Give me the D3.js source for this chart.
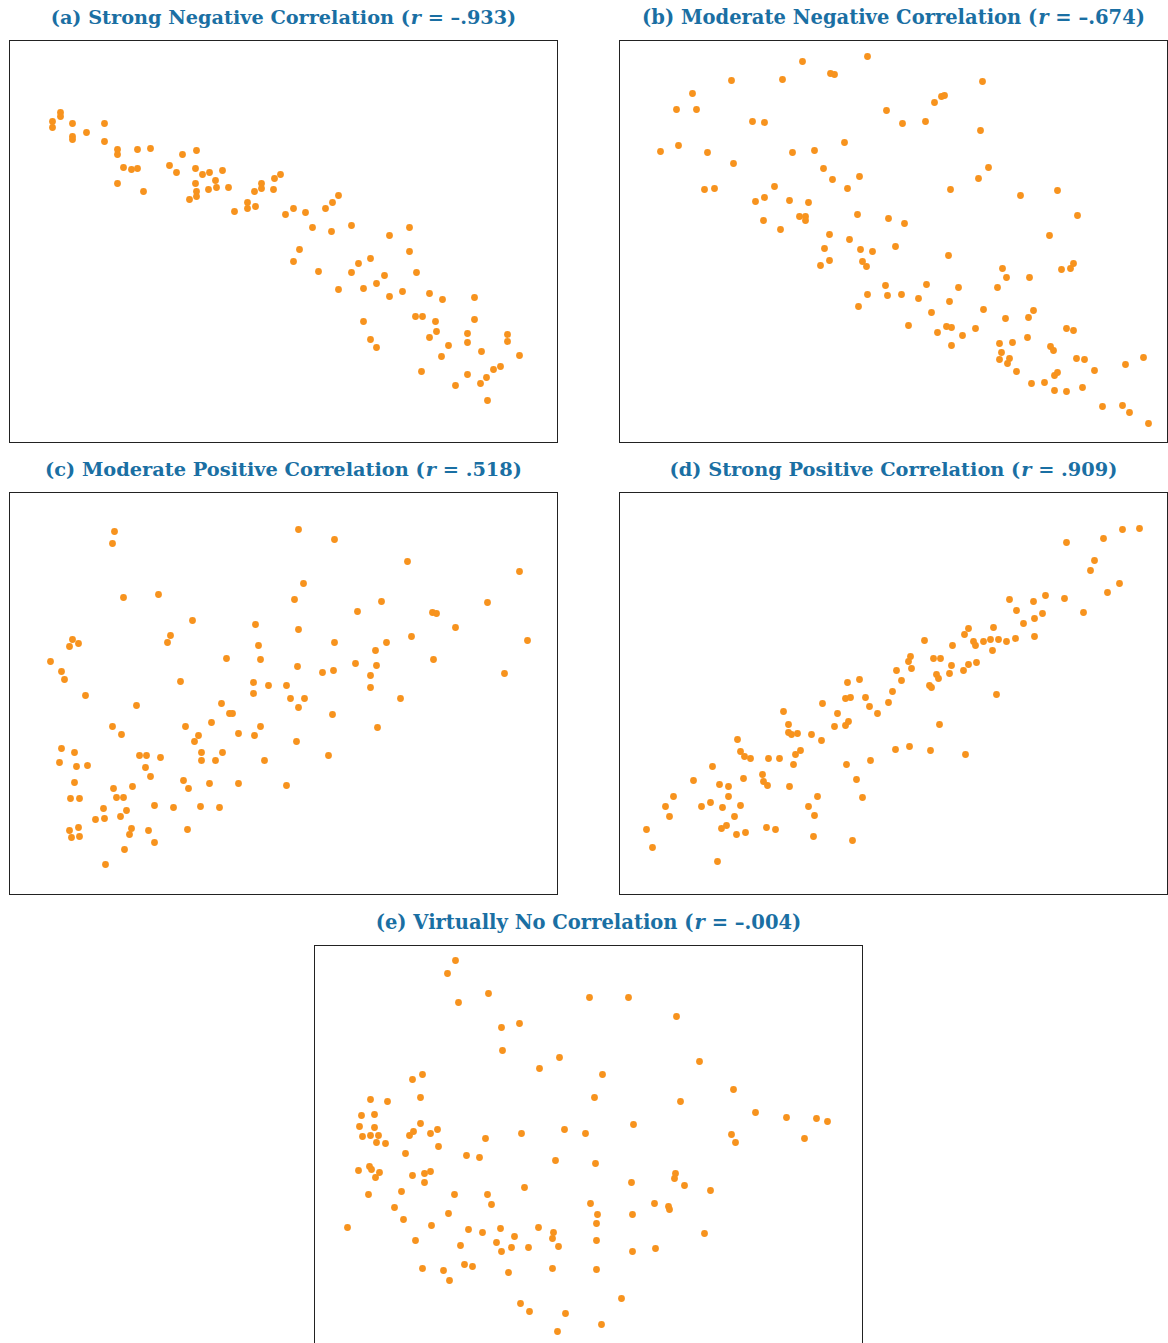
<!DOCTYPE html>
<html>
<head>
<meta charset="utf-8">
<script src="https://cdn.jsdelivr.net/npm/d3@7"></script>
<style>
html,body{margin:0;padding:0;background:#fff;}
svg{display:block;}
</style>
</head>
<body>
<svg id="chart" width="1168" height="1343"></svg>
<script>
// Panel titles
const titlePrefixes = ["(a) Strong Negative Correlation (", "(b) Moderate Negative Correlation (", "(c) Moderate Positive Correlation (", "(d) Strong Positive Correlation (", "(e) Virtually No Correlation ("];
const rValues = ["\u2013.933", "\u2013.674", ".518", ".909", "\u2013.004"];

// Points per panel: [x, y]
const pointsA = [[43,321],[43,315],[51,330],[51,326],[63,319],[63,306],[63,303],[77,310],[95,319],[95,301],[108,293],[108,288],[108,259],[114,275],[122,273],[128,293],[128,274],[134,251],[141,294],[160,277],[167,270],[173,288],[187,292],[186,274],[193,268],[200,270],[186,259],[187,251],[187,246],[180,243],[199,253],[206,262],[207,255],[213,272],[219,255],[225,231],[238,240],[238,234],[246,236],[245,251],[252,259],[252,254],[264,253],[265,264],[271,268],[276,228],[284,234],[296,230],[303,215],[316,234],[323,240],[329,247],[322,211],[342,217],[290,193],[284,181],[309,171],[329,153],[342,170],[349,179],[361,184],[354,154],[367,159],[375,167],[380,207],[380,146],[393,151],[400,215],[400,191],[407,170],[420,149],[433,143],[354,121],[361,103],[367,95],[406,126],[413,126],[426,121],[427,111],[420,105],[439,97],[432,86],[412,71],[446,57],[458,68],[458,109],[458,100],[465,145],[465,123],[472,91],[471,59],[477,65],[478,42],[484,73],[491,76],[498,108],[498,101],[510,87]];

const pointsB = [[41,291],[57,333],[59,297],[73,349],[77,333],[88,290],[85,253],[95,254],[112,362],[114,279],[133,321],[145,320],[136,241],[145,245],[155,256],[144,222],[161,213],[163,363],[183,381],[170,242],[173,290],[189,240],[180,226],[186,226],[186,222],[195,292],[204,274],[213,263],[211,369],[215,368],[225,300],[228,254],[240,266],[248,386],[267,332],[210,208],[205,194],[201,177],[210,182],[230,203],[238,228],[241,193],[243,181],[247,176],[253,191],[269,224],[276,196],[266,157],[248,148],[268,147],[239,136],[363,361],[315,340],[322,346],[325,347],[283,319],[306,321],[361,312],[369,275],[359,264],[331,253],[401,247],[438,252],[458,227],[285,219],[430,207],[329,187],[383,174],[387,165],[410,165],[442,173],[451,174],[454,179],[307,158],[339,155],[378,155],[282,148],[299,144],[330,141],[312,130],[364,133],[414,132],[409,125],[386,124],[289,117],[318,110],[327,116],[332,115],[343,107],[356,114],[332,97],[380,99],[393,100],[408,105],[382,90],[380,83],[390,84],[388,79],[397,71],[412,59],[425,60],[431,96],[434,92],[447,114],[454,112],[457,84],[465,83],[435,67],[438,70],[435,52],[447,51],[463,55],[475,72],[483,36],[503,37],[510,30],[506,78],[524,85],[529,19]];

const pointsC = [[105,363],[103,351],[114,297],[149,300],[183,274],[246,270],[63,255],[69,251],[60,248],[41,233],[52,223],[55,215],[76,199],[161,259],[158,252],[249,249],[251,235],[217,236],[171,213],[244,212],[244,201],[259,209],[277,209],[127,189],[212,191],[220,181],[223,181],[103,168],[112,160],[176,168],[202,172],[189,159],[185,153],[229,161],[251,168],[245,159],[52,146],[65,142],[50,132],[67,128],[78,129],[65,112],[61,96],[70,96],[60,64],[69,67],[62,57],[70,58],[96,30],[130,139],[137,139],[151,137],[136,127],[141,118],[104,106],[123,108],[107,97],[114,97],[94,86],[117,84],[86,75],[95,76],[111,78],[122,66],[120,60],[139,64],[145,52],[115,45],[145,89],[164,87],[178,65],[174,114],[179,106],[192,142],[192,134],[206,134],[213,142],[255,134],[200,111],[229,111],[191,88],[210,87],[277,109],[289,365],[325,355],[398,333],[510,323],[294,311],[285,295],[372,293],[348,283],[423,282],[427,281],[478,292],[446,267],[518,254],[289,265],[325,252],[377,252],[402,258],[366,244],[288,228],[313,222],[324,224],[346,231],[367,229],[361,219],[361,207],[424,235],[495,221],[281,196],[295,196],[289,187],[323,180],[391,196],[368,167],[287,153],[319,139]];

const pointsD = [[27,65],[33,47],[46,88],[50,78],[54,98],[74,114],[82,88],[91,92],[93,128],[100,110],[103,87],[109,108],[109,98],[102,66],[107,69],[98,33],[115,78],[117,60],[126,62],[121,89],[124,116],[118,155],[121,143],[125,138],[131,136],[143,120],[144,113],[148,109],[149,136],[160,136],[147,67],[156,65],[164,183],[169,170],[169,162],[172,160],[178,161],[176,140],[174,130],[181,144],[170,108],[189,88],[198,98],[195,79],[194,58],[192,160],[202,154],[203,191],[215,168],[218,181],[226,169],[229,173],[228,212],[226,196],[231,197],[240,215],[246,197],[250,188],[258,181],[269,192],[273,203],[277,224],[227,130],[237,115],[243,97],[233,54],[251,134],[276,145],[282,214],[289,233],[291,238],[292,226],[305,254],[310,209],[312,207],[314,236],[321,236],[317,220],[319,216],[330,221],[332,229],[333,249],[320,170],[290,148],[311,144],[346,140],[344,224],[349,230],[357,232],[345,260],[349,266],[354,253],[356,249],[364,253],[371,255],[373,244],[374,267],[379,255],[387,253],[377,200],[390,295],[397,284],[396,256],[404,271],[414,293],[415,276],[415,258],[423,281],[426,299],[445,296],[447,352],[464,282],[471,324],[475,334],[484,356],[488,302],[500,311],[503,365],[520,366]];

const pointsE = [[141,387],[133,374],[144,345],[174,354],[187,320],[205,324],[188,297],[245,290],[225,279],[275,350],[98,268],[108,273],[106,250],[56,248],[73,246],[47,232],[60,233],[45,221],[60,220],[48,211],[56,212],[64,212],[62,205],[71,204],[106,224],[95,212],[99,216],[116,214],[123,218],[124,201],[91,194],[44,177],[55,181],[57,178],[65,175],[61,170],[54,153],[98,172],[110,174],[116,176],[110,165],[87,156],[80,140],[89,128],[33,120],[117,122],[101,107],[108,79],[129,77],[135,67],[134,134],[140,153],[154,118],[146,102],[150,83],[158,81],[152,192],[165,190],[171,209],[207,214],[250,218],[271,214],[241,187],[210,160],[173,153],[177,143],[168,115],[186,119],[182,105],[187,96],[200,111],[197,100],[214,100],[224,120],[239,115],[238,109],[244,101],[194,75],[238,79],[206,44],[215,36],[251,34],[243,16],[276,144],[314,350],[362,331],[385,286],[288,273],[280,250],[366,246],[419,258],[441,235],[472,230],[502,229],[513,226],[490,209],[417,213],[421,205],[319,223],[281,184],[317,165],[361,174],[360,169],[370,162],[396,157],[340,144],[354,141],[355,138],[283,133],[282,124],[318,133],[390,114],[282,107],[318,96],[341,99],[282,78],[307,49],[287,23]];

const panels = [
  {pts: pointsA, left: 9.5,   top: 40.5,  tw: 465},
  {pts: pointsB, left: 619.5, top: 40.5,  tw: 502},
  {pts: pointsC, left: 9.5,   top: 492.5, tw: 476},
  {pts: pointsD, left: 619.5, top: 492.5, tw: 447},
  {pts: pointsE, left: 314.5, top: 945.5, tw: 425}
];

const W = 548, H = 402;
const svg = d3.select("#chart");

panels.forEach((p, i) => {
  const x = d3.scaleLinear().domain([0, 548]).range([p.left, p.left + W]);
  const y = d3.scaleLinear().domain([0, 402]).range([p.top + H, p.top]);
  const g = svg.append("g");

  g.append("rect")
    .attr("x", p.left).attr("y", p.top)
    .attr("width", W).attr("height", H)
    .attr("fill", "#fff").attr("stroke", "#222").attr("stroke-width", 1);

  g.selectAll("circle").data(p.pts).join("circle")
    .attr("cx", d => x(d[0]))
    .attr("cy", d => y(d[1]))
    .attr("r", 3.4)
    .attr("fill", "#f7931e");

  const t = g.append("text")
    .attr("x", p.left + W / 2)
    .attr("y", p.top - 17)
    .attr("text-anchor", "middle")
    .attr("font-family", "'DejaVu Serif', 'Liberation Serif', serif")
    .attr("font-weight", "bold")
    .attr("font-size", 20)
    .attr("fill", "#1a6fa3")
    .text(titlePrefixes[i] + "r = " + rValues[i] + ")");
  // fit the title's natural width to the reference width
  const natural = t.node().getComputedTextLength();
  const fs = Math.min(21, 20 * p.tw / natural);
  t.attr("font-size", fs).text(null);
  t.append("tspan").text(titlePrefixes[i]);
  t.append("tspan").attr("font-style", "italic").attr("dx", 1).text("r");
  t.append("tspan").text(" = " + rValues[i] + ")");
});
</script>
</body>
</html>
